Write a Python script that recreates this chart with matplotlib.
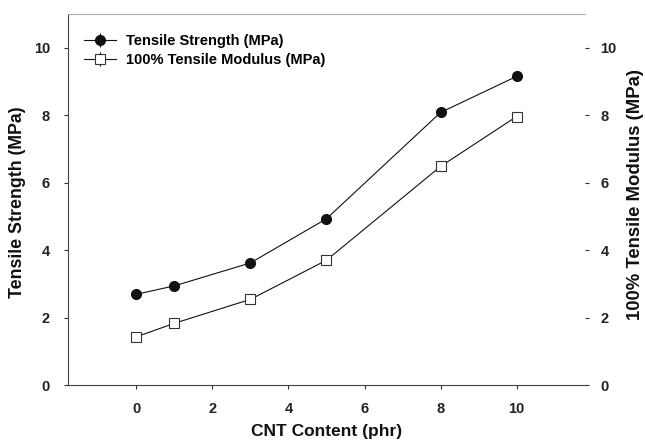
import matplotlib.pyplot as plt
import numpy as np

# CNT content (phr)
cnt = [0, 1, 3, 5, 8, 10]
# Tensile strength (MPa) and 100% modulus (MPa)
strength = [2.69, 2.94, 3.62, 4.93, 8.08, 9.15]
strength_err = [0.06, 0.05, 0.06, 0.12, 0.06, 0.06]
modulus = [1.43, 1.83, 2.54, 3.70, 6.48, 7.96]
modulus_err = [0.10, 0.05, 0.05, 0.05, 0.05, 0.05]

plt.rcParams['font.family'] = ['Liberation Sans', 'DejaVu Sans']
plt.rcParams['font.weight'] = 'bold'

W, H = 645, 448
x0, x1, y0, y1 = 68, 585, 14, 385   # axes box in pixels
fig = plt.figure(figsize=(6.45, 4.48), dpi=100)
ax = fig.add_axes([x0/W, 1-y1/H, (x1-x0)/W, (y1-y0)/H])

ax.errorbar(cnt, strength, yerr=strength_err, color='#111111', lw=0.8,
            marker='o', ms=7, mfc='#111111', mec='#111111', capsize=0,
            elinewidth=0.8, label='Tensile Strength (MPa)')
ax.errorbar(cnt, modulus, yerr=modulus_err, color='#111111', lw=0.8,
            marker='s', ms=7, mfc='white', mec='#333333', mew=0.8, capsize=0,
            elinewidth=0.8, label='100% Tensile Modulus (MPa)')

ax.set_xlim(-1.8, 11.8)
ax.set_ylim(0, 11)
ax.set_xticks([0, 2, 4, 6, 8, 10])
ax.set_yticks([0, 2, 4, 6, 8, 10])
ax.tick_params(direction='out', length=3, width=0.8, labelsize=10.5, colors='#333333')
ax.tick_params(axis='y', pad=10)
ax.tick_params(axis='x', pad=9)
for lab in ax.get_xticklabels() + ax.get_yticklabels():
    lab.set_fontweight('bold')
    lab.set_color('#222222')

ax.spines['right'].set_visible(False)
ax.spines['top'].set_color('#aaaaaa')
ax.spines['left'].set_color('#444444')
ax.spines['bottom'].set_color('#444444')

ax.set_xlabel('CNT Content (phr)', fontsize=12.5, fontweight='bold', color='#111111')
ax.set_ylabel('Tensile Strength (MPa)', fontsize=12.8, fontweight='bold', color='#111111')
ax.xaxis.set_label_coords((327-x0)/(x1-x0), -(424-y1)/(y1-y0))
ax.yaxis.set_label_coords(-(x0-26)/(x1-x0), (y1-202)/(y1-y0))

ax2 = ax.twinx()
ax2.set_ylim(0, 11)
ax2.set_yticks([0, 2, 4, 6, 8, 10])
for s in ax2.spines.values():
    s.set_visible(False)
ax2.tick_params(direction='out', length=3, width=0.8, labelsize=10.5, pad=8, colors='#333333')
for lab in ax2.get_yticklabels():
    lab.set_fontweight('bold')
    lab.set_color('#222222')
ax2.set_ylabel('100% Tensile Modulus (MPa)', fontsize=13.3, fontweight='bold', color='#111111')
ax2.yaxis.set_label_coords((627-x0)/(x1-x0), (y1-195)/(y1-y0))

leg = ax.legend(loc='upper left', frameon=False, fontsize=10.5, handlelength=2.2,
                bbox_to_anchor=(0.02, 0.962), borderaxespad=0, labelspacing=0.35,
                handletextpad=0.7)
for t in leg.get_texts():
    t.set_fontweight('bold')

fig.savefig('out.png', dpi=100)
